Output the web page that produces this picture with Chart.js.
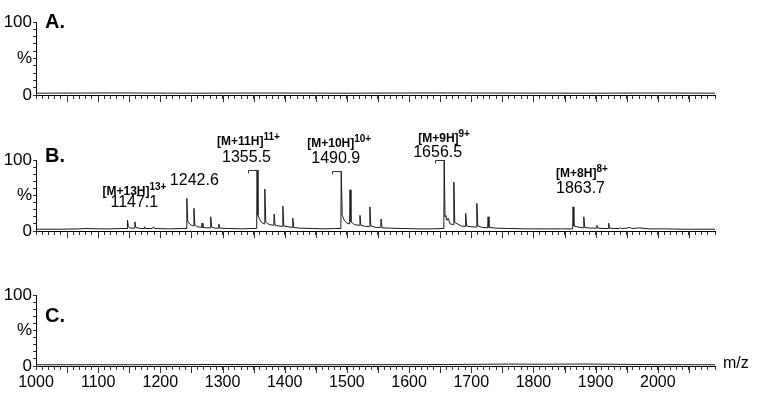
<!DOCTYPE html>
<html>
<head>
<meta charset="utf-8">
<script src="https://cdn.jsdelivr.net/npm/chart.js@4.4.1/dist/chart.umd.min.js"></script>
<style>
  html, body { margin: 0; padding: 0; background: #fff; }
  #wrap { position: relative; width: 760px; height: 400px; }
  .panel { position: absolute; left: 0; width: 760px; }
</style>
</head>
<body>
<div id="wrap">
  <div class="panel" style="top:0;height:125px"><canvas id="spec-a"></canvas></div>
  <div class="panel" style="top:125px;height:135px"><canvas id="spec-b"></canvas></div>
  <div class="panel" style="top:260px;height:140px"><canvas id="spec-c"></canvas></div>
</div>
<script>
// m/z range shared by the three spectra
const X_MIN = 1000;
const X_MAX = 2092;
const yTickLabels = { 0: "0", 50: "%", 100: "100" };

// A. — flat trace
const mzA  = [1000, 1120, 1250, 1380, 1500, 1640, 1780, 1900, 2000, 2092];
const intA = [2.5, 2.8, 2.5, 2.7, 2.5, 2.8, 2.6, 2.5, 2.7, 2.5];

// B. — spectrum, grouped by charge-state cluster
const mzB = [
  1000, 1040, 1070, 1080, 1100, 1120, 1138, 1146.5, 1147.1, 1148.5, 1152, 1158.4, 1159, 1160.5, 1168, 1173.9, 1174.5, 1176, 1187, 1189, 1190.5, 1215, 1235, 1242,
  1242.6, 1244, 1247, 1250, 1253.4, 1254, 1255.5, 1260, 1266.4, 1267, 1268.5, 1274, 1280.4, 1281, 1282.5, 1288, 1293.4, 1294, 1295.5, 1310, 1330, 1345, 1354.9,
  1355.5, 1357, 1360, 1363, 1367.4, 1368, 1369.5, 1375, 1382.4, 1383, 1384.5, 1390, 1396.4, 1397, 1398.5, 1405, 1412.4, 1413, 1414.5, 1425, 1445, 1465, 1480, 1490.3,
  1490.9, 1492.5, 1496, 1500, 1504.4, 1505, 1506.5, 1512, 1520.4, 1521, 1522.5, 1530, 1536.4, 1537, 1538.5, 1547, 1554.4, 1555, 1556.5, 1570, 1590, 1615, 1635, 1655.9,
  1656.5, 1657.8, 1659, 1661, 1663, 1666, 1671.4, 1672, 1673.5, 1678, 1684, 1690.4, 1691, 1692.5, 1700, 1708.4, 1709, 1710.5, 1718, 1726.4, 1727, 1728.5, 1740, 1760, 1790, 1820, 1845, 1863.1,
  1863.7, 1865, 1870, 1875, 1880.4, 1881, 1882.5, 1892, 1901.4, 1902, 1903.5, 1912, 1920.4, 1921, 1922.5, 1930, 1938, 1940, 1942, 1950, 1955, 1958, 1966, 1970, 1985, 2010, 2040, 2070, 2092
];
const intB = [
  2.5, 2.5, 3, 3.5, 3, 3, 3.5, 3.5, 15.5, 6, 4, 4, 13, 5, 3.5, 3.5, 6, 3.5, 3.5, 6, 3.5, 3, 3.5, 3.5,
  46, 14, 10, 8, 7, 32, 8, 6, 5, 11, 5, 4.5, 4.5, 20, 5.5, 4, 4, 10, 4, 3.5, 3, 3.5, 3.5,
  86, 22, 16, 12, 10, 59, 13, 9, 8, 24, 8, 7, 6.5, 35, 7, 6, 5, 18, 5, 4, 3.5, 3, 3.5, 3.5,
  84, 22, 15, 11, 10, 58, 13, 9, 8, 22, 8, 6.5, 6, 34, 7, 5, 5, 17, 4.5, 4, 3.5, 3, 3, 3.5,
  100, 20, 22, 15, 18, 10, 9, 69, 12, 10, 7, 6.5, 25, 7, 6, 5.5, 39, 7, 5, 4.5, 20, 5, 4, 3.5, 3, 3, 3, 3,
  34, 7, 6, 5, 4.5, 20, 5, 4, 4, 8, 4, 3.5, 3.5, 11, 4, 3.5, 3.5, 5, 3.5, 4, 5, 3.5, 4, 4.5, 3, 3, 2.5, 2.5, 2.5
];

// labelled peaks in B.
const peakMz     = [1147.1, 1242.6, 1355.5, 1490.9, 1656.5, 1863.7];
const peakTop    = [15.5, 46, 86, 84, 100, 34];
const ionNames   = ["[M+13H]", null, "[M+11H]", "[M+10H]", "[M+9H]", "[M+8H]"];
const ionCharges = ["13+", null, "11+", "10+", "9+", "8+"];
const flagged    = [false, false, true, true, true, false];

// C. — flat trace
const mzC  = [1000, 1150, 1300, 1450, 1600, 1700, 1760, 1820, 1880, 1940, 2000, 2092];
const intC = [1.8, 1.8, 2.1, 1.8, 1.9, 2.3, 2.7, 2.5, 2.8, 2.3, 1.9, 1.8];

const FONT = "'Liberation Sans', Arial, Helvetica, sans-serif";
Chart.defaults.font.family = FONT;
Chart.defaults.color = "#000";

// label placement (pixels, relative to the peak / panel canvas)
const labelLayout = [
  { numDx: -17, numY: 82, ionDx: -25, ionY: 70 },
  { numDx: -17, numY: 60 },
  { numDx: -35, numY: 37, ionDx: -40, ionY: 20 },
  { numDx: -30, numY: 38, ionDx: -34, ionY: 22 },
  { numDx: -31, numY: 32, ionDx: -26, ionY: 17 },
  { numDx: -17, numY: 68, ionDx: -17, ionY: 52 },
];

const longTicks = {
  id: "longTicks",
  afterDraw(chart) {
    const xs = chart.scales.x;
    const ctx = chart.ctx;
    const y0 = chart.chartArea.bottom;
    ctx.save();
    ctx.strokeStyle = "#333";
    ctx.lineWidth = 1;
    for (let v = 1050; v < X_MAX; v += 50) {
      const px = Math.round(xs.getPixelForValue(v)) + 0.5;
      ctx.beginPath();
      ctx.moveTo(px, y0);
      ctx.lineTo(px, y0 + 7);
      ctx.stroke();
    }
    ctx.restore();
  },
};

function panelLabel(text, y) {
  return {
    id: "panelLabel",
    afterDraw(chart) {
      const ctx = chart.ctx;
      ctx.save();
      ctx.fillStyle = "#000";
      ctx.font = `bold 20px ${FONT}`;
      ctx.textBaseline = "alphabetic";
      ctx.fillText(text, 45, y);
      ctx.restore();
    },
  };
}

const peakLabels = {
  id: "peakLabels",
  afterDraw(chart) {
    const xs = chart.scales.x, ys = chart.scales.y;
    const ctx = chart.ctx;
    ctx.save();
    ctx.fillStyle = "#000";
    ctx.strokeStyle = "#333";
    ctx.lineWidth = 1;
    ctx.textBaseline = "alphabetic";
    peakMz.forEach((mz, i) => {
      const px = xs.getPixelForValue(mz);
      const lay = labelLayout[i];
      ctx.font = `16px ${FONT}`;
      ctx.fillText(mz.toFixed(1), px + lay.numDx, lay.numY);
      if (ionNames[i]) {
        ctx.font = `bold 12px ${FONT}`;
        ctx.fillText(ionNames[i], px + lay.ionDx, lay.ionY);
        const w = ctx.measureText(ionNames[i]).width;
        ctx.font = `bold 10px ${FONT}`;
        ctx.fillText(ionCharges[i], px + lay.ionDx + w, lay.ionY - 5);
      }
      if (flagged[i]) {
        const py = Math.round(ys.getPixelForValue(peakTop[i])) + 0.5;
        const x1 = Math.round(px) + 0.5;
        ctx.beginPath();
        ctx.moveTo(x1 - 9, py + 3);
        ctx.lineTo(x1 - 9, py);
        ctx.lineTo(x1, py);
        ctx.stroke();
      }
    });
    ctx.restore();
  },
};

const mzUnit = {
  id: "mzUnit",
  afterDraw(chart) {
    const ctx = chart.ctx;
    ctx.save();
    ctx.fillStyle = "#000";
    ctx.font = `16px ${FONT}`;
    ctx.fillText("m/z", 723, 108);
    ctx.restore();
  },
};

function buildPanel(id, mz, inten, cfg) {
  const points = mz.map((m, i) => ({ x: m, y: inten[i] }));
  return new Chart(document.getElementById(id), {
    type: "line",
    data: {
      datasets: [{
        data: points,
        borderColor: "#1a1a1a",
        borderWidth: 1,
        pointRadius: 0,
        tension: 0,
        fill: false,
      }],
    },
    options: {
      responsive: true,
      maintainAspectRatio: false,
      animation: false,
      events: [],
      layout: { padding: { top: cfg.top, right: 45, left: 0, bottom: 0 } },
      plugins: { legend: { display: false }, tooltip: { enabled: false } },
      scales: {
        x: {
          type: "linear",
          min: X_MIN,
          max: X_MAX,
          border: { color: "#000", width: 1 },
          grid: { drawOnChartArea: false, tickLength: 4, tickColor: "#333" },
          ticks: {
            stepSize: 10,
            autoSkip: false,
            maxRotation: 0,
            padding: 3,
            font: { size: 16 },
            callback: (v) => (cfg.xLabels && Math.round(v) % 100 === 0 && v <= 2000 ? String(Math.round(v)) : ""),
          },
          afterFit: (s) => { s.height = cfg.xHeight; },
        },
        y: {
          min: 0,
          max: 100,
          border: { color: "#000", width: 1 },
          grid: { drawOnChartArea: false, tickLength: 3, tickColor: "#333" },
          ticks: {
            stepSize: 10,
            autoSkip: false,
            padding: 1,
            font: { size: 17 },
            callback: (v) => yTickLabels[v] || "",
          },
          afterFit: (s) => { s.width = 36; },
        },
      },
    },
    plugins: [longTicks, ...cfg.extra],
  });
}

buildPanel("spec-a", mzA, intA, { top: 22, xHeight: 30, xLabels: false, extra: [panelLabel("A.", 28)] });
buildPanel("spec-b", mzB, intB, { top: 35, xHeight: 29, xLabels: false, extra: [panelLabel("B.", 37), peakLabels] });
buildPanel("spec-c", mzC, intC, { top: 35, xHeight: 34, xLabels: true, extra: [panelLabel("C.", 62), mzUnit] });
</script>
</body>
</html>
